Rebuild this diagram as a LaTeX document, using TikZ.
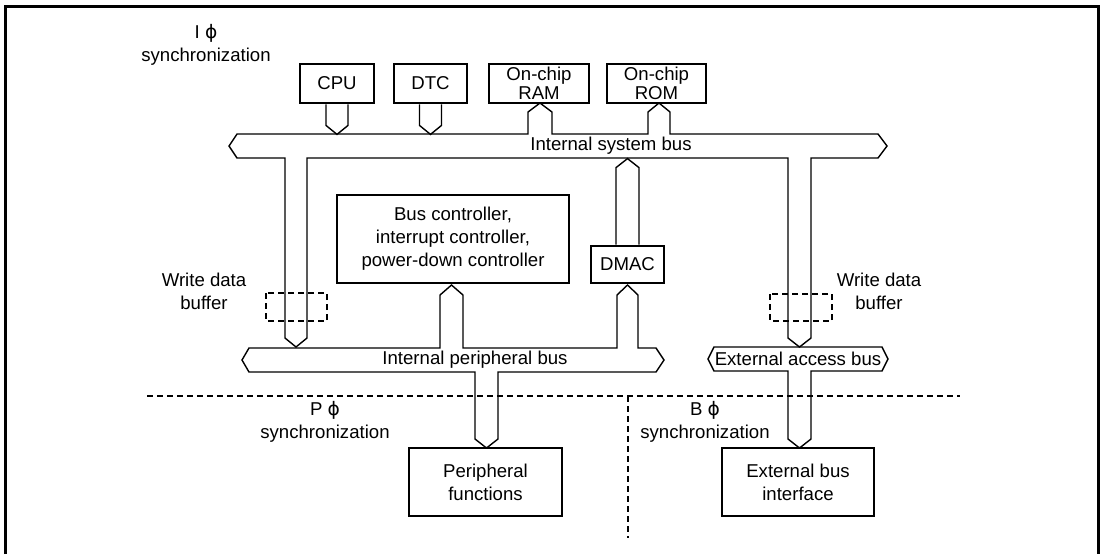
\documentclass[tikz,border=0pt]{standalone}
\usepackage{fontspec}
\setmainfont{Liberation Sans}
\newfontfamily\phifont{DejaVu Sans}
\newcommand{\clk}{{\phifont ϕ}}
\usetikzlibrary{shapes,arrows,positioning}

\begin{document}
\begin{tikzpicture}[
    x=0.5pt, y=-0.5pt,
    every node/.style={align=center, inner sep=0pt, font=\fontsize{9.3}{11.5}\selectfont}
]

% Define styles
\tikzstyle{block} = [rectangle, draw, line width=1.4pt, text centered, minimum height=19.5pt]
\tikzstyle{chipblock} = [block, font=\fontsize{9.3}{7.5}\selectfont]
\tikzstyle{bus} = [draw, line width=0.7pt, line join=miter]
\tikzstyle{buffer} = [draw, line width=0.7pt, dash pattern=on 3pt off 2pt]

\useasboundingbox (0,0) rectangle (1102,554);
\draw [line width=1.5pt] (5,554) -- (5,6) -- (1098,6) -- (1098,554);

% Nodes
\node [block, minimum width=37pt] (cpu) at (337,83.5) {CPU};
\node [block, minimum width=36.5pt] (dtc) at (430.5,83.5) {DTC};
\node [chipblock, minimum width=50pt] (ram) at (539,83.5) {On-chip\\RAM};
\node [chipblock, minimum width=49.5pt] (rom) at (656.5,83.5) {On-chip\\ROM};
\node [block, minimum width=116pt, minimum height=44pt] (busctl) at (453,239)
    {Bus controller,\\interrupt controller,\\power-down controller};
\node [block, minimum width=36.5pt, minimum height=18.5pt] (dmac) at (627.5,264.5) {DMAC};
\node [block, minimum width=76.5pt, minimum height=34pt] (periph) at (485.5,482) {Peripheral\\functions};
\node [block, minimum width=76pt, minimum height=34pt] (extif) at (798,482) {External bus\\interface};

\node (isync) at (206,45) {I \clk\\synchronization};
\node (psync) at (325,421.5) {P \clk\\synchronization};
\node (bsync) at (705,421.5) {B \clk\\synchronization};
\node (wbufl) at (204,291) {Write data\\buffer};
\node (wbufr) at (879,291) {Write data\\buffer};

\node (sysbus) at (611,146) {Internal system bus};
\node (perbus) at (475,360) {Internal peripheral bus};
\node (extbus) at (798,359) {External access bus};

% Buses
\draw [bus] (229,146) -- (237,134) -- (528,134) -- (528,112) -- (540,103) -- (552,112)
    -- (552,134) -- (648,134) -- (648,112) -- (659,103) -- (670,112) -- (670,134)
    -- (878,134) -- (887,146) -- (878,158) -- (811,158) -- (811,338) -- (799.5,347)
    -- (788,338) -- (788,158) -- (307,158) -- (307,338) -- (296,347) -- (285,338)
    -- (285,158) -- (237,158) -- cycle;
\draw [bus] (242,360) -- (249,348) -- (440,348) -- (440,295) -- (451.5,285) -- (463,295)
    -- (463,348) -- (617,348) -- (617,295) -- (627.5,285) -- (638,295) -- (638,348)
    -- (656,348) -- (664,360) -- (656,372) -- (498,372) -- (498,439) -- (486.5,448)
    -- (475,439) -- (475,372) -- (249,372) -- cycle;
\draw [bus] (708,359) -- (714,347) -- (882,347) -- (888,359) -- (882,371) -- (811,371)
    -- (811,439) -- (799.5,448) -- (788,439) -- (788,371) -- (714,371) -- cycle;

% Stubs
\draw [bus] ([xshift=-5.5pt]cpu.south) -- ++(0,21) -- ++(11,9) -- ++(11,-9) -- ([xshift=5.5pt]cpu.south);
\draw [bus] ([xshift=-5.5pt]dtc.south) -- ++(0,21) -- ++(11,9) -- ++(11,-9) -- ([xshift=5.5pt]dtc.south);
\draw [bus] ([xshift=-5.75pt]dmac.north) -- ++(0,-77) -- ++(11.5,-9) -- ++(11.5,9) -- ([xshift=5.75pt]dmac.north);

% Write buffers and clock domains
\draw [buffer] (266,293) rectangle (327,321);
\draw [buffer] (770,294) rectangle (832,321);
\draw [buffer] (147,396) -- (960,396);
\draw [buffer] (628,396) -- (628,538);

\end{tikzpicture}
\end{document}
